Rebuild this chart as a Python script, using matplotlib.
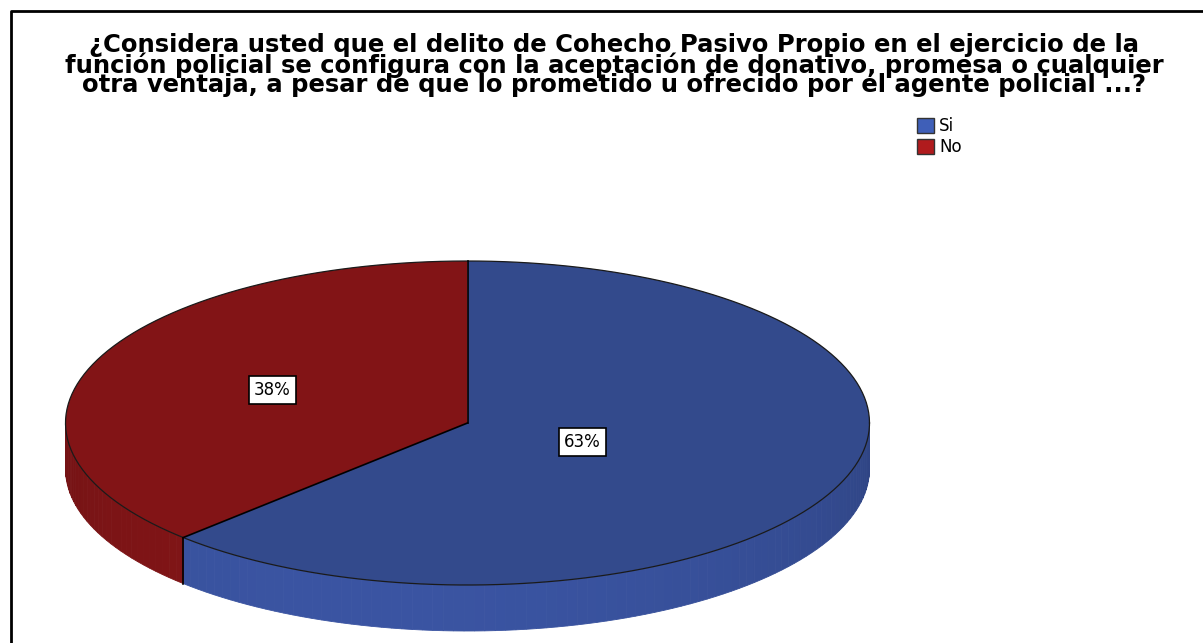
import numpy as np
import matplotlib.pyplot as plt
from matplotlib.patches import Polygon, Rectangle
from matplotlib.colors import to_rgb

plt.rcParams['font.family'] = ['DejaVu Sans']

title = ("¿Considera usted que el delito de Cohecho Pasivo Propio en el ejercicio de la\n"
         "función policial se configura con la aceptación de donativo, promesa o cualquier\n"
         "otra ventaja, a pesar de que lo prometido u ofrecido por el agente policial ...?")
categories = ['Si', 'No']
percentages = [62.5, 37.5]
top_colors = ['#334a8c', '#821416']
wall_colors = ['#3a54a2', '#821517']
legend_colors = ['#3f5fb8', '#b01b1d']

W, H = 1203, 643
fig = plt.figure(figsize=(W / 100, H / 100), dpi=100)
ax = fig.add_axes([0, 0, 1, 1])
ax.set_xlim(0, W)
ax.set_ylim(H, 0)
ax.axis('off')

# pie geometry in pixels
cx, cy, a, b, depth = 467.5, 423, 402, 162, 46
label_r = [0.31, 0.525]


def ell(t, dy=0.0):
    t = np.radians(t)
    return np.column_stack([cx + a * np.cos(t), cy - b * np.sin(t) + dy])


def shade(color, t):
    f = 0.85 + 0.15 * np.cos(np.radians(t - 255))
    return np.clip(np.array(to_rgb(color)) * f, 0, 1)


# wedge angles, clockwise from 12 o'clock
wedges = []
start = 90.0
for p in percentages:
    end = start - 360 * p / 100
    wedges.append((end, start))
    start = end

# side walls (front half only)
for (t0, t1), wc in zip(wedges, wall_colors):
    lo, hi = t0 % 360, t0 % 360 + (t1 - t0)
    for base in (0, 360, -360):
        s0 = max(lo, 180 + base)
        s1 = min(hi, 360 + base)
        if s1 <= s0:
            continue
        edges = np.linspace(s0, s1, int((s1 - s0) / 1.5) + 2)
        for e0, e1 in zip(edges[:-1], edges[1:]):
            tt = np.linspace(e0, e1, 4)
            col = shade(wc, (e0 + e1) / 2)
            ax.add_patch(Polygon(np.vstack([ell(tt), ell(tt[::-1], depth)]),
                                 closed=True, facecolor=col, edgecolor=col, lw=0.6))

# top surface
for (t0, t1), tc in zip(wedges, top_colors):
    tt = np.linspace(t0, t1, 300)
    pts = np.vstack([[cx, cy], ell(tt)])
    ax.add_patch(Polygon(pts, closed=True, facecolor=tc, edgecolor='none'))

tt = np.linspace(0, 360, 400)
ax.plot(*ell(tt).T, color='#1a1a1a', lw=0.9)
for t0, t1 in wedges:
    x, y = ell([t1])[0]
    ax.plot([cx, x], [cy, y], color='black', lw=1.2)
    tf = t1 % 360
    if 180 < tf < 360:
        ax.plot([x, x], [y, y + depth], color='black', lw=1.2)

# percentage labels
for (t0, t1), p, r in zip(wedges, percentages, label_r):
    mid = (t0 + t1) / 2
    x = cx + r * a * np.cos(np.radians(mid))
    y = cy - r * b * np.sin(np.radians(mid))
    ax.text(x, y, f'{int(p + 0.5)}%', ha='center', va='center', fontsize=12,
            bbox=dict(boxstyle='square,pad=0.3', facecolor='white',
                      edgecolor='black', lw=1.2))

# title
ax.text(614, 65, title, ha='center', va='center', fontsize=17.5,
        fontweight='bold', linespacing=0.74)

# legend
for i, (cat, lc) in enumerate(zip(categories, legend_colors)):
    y0 = 118 + i * 21
    ax.add_patch(Rectangle((917, y0), 17, 15, facecolor=lc,
                           edgecolor='#333333', lw=1))
    ax.text(939, y0 + 8, cat, ha='left', va='center', fontsize=12)

# frame
ax.plot([11, 11, W + 5], [H + 5, 11, 11], color='black', lw=2)

fig.savefig('out.png', dpi=100)
